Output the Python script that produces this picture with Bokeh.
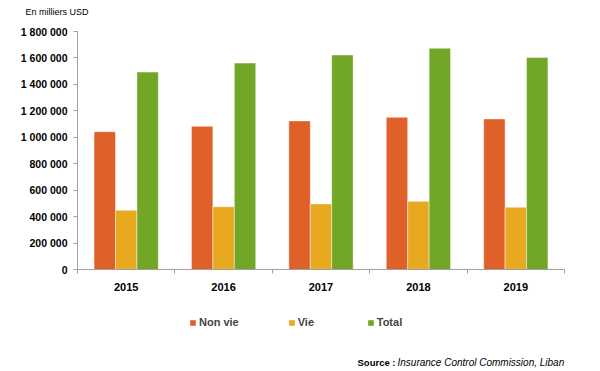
from bokeh.plotting import figure
from bokeh.layouts import column
from bokeh.models import (Range1d, FixedTicker, CustomJSTickFormatter, Legend, LegendItem,
                          Label, ColumnDataSource)
from bokeh.embed import file_html
from bokeh.resources import INLINE

years = ["2015", "2016", "2017", "2018", "2019"]
non_vie = [1042000, 1083000, 1124000, 1151000, 1139000]
vie = [448000, 475000, 496000, 516000, 471000]
total = [1493000, 1561000, 1622000, 1673000, 1604000]

series_names = ["Non vie", "Vie", "Total"]
series_values = [non_vie, vie, total]
colors = ["#E0602A", "#E8A820", "#72A626"]
offsets = [-0.22, 0.0, 0.22]
bar_w = 0.22

W = 592
H1 = 300
n = len(years)
# frame spans to the right edge; the axis itself stops at the last category
x_end = n * (592 - 77) / (564 - 77)
p = figure(width=W, height=H1, output_backend="svg", toolbar_location=None,
           x_range=Range1d(0, x_end), y_range=Range1d(0, 1800000),
           min_border_left=77, min_border_right=0, min_border_top=31, min_border_bottom=31)
p.outline_line_color = None
p.xgrid.grid_line_color = None
p.ygrid.grid_line_color = None

p.title.text = "En milliers USD\n "
p.title.align = "left"
p.title.offset = -52
p.title.standoff = 6
p.title.text_font = "Liberation Sans"
p.title.text_font_size = "9px"
p.title.text_line_height = 1.2
p.title.text_font_style = "normal"
p.title.text_color = "black"

centers = [i + 0.5 for i in range(n)]
for name, vals, col, off in zip(series_names, series_values, colors, offsets):
    src = ColumnDataSource(dict(x=[c + off for c in centers], top=vals))
    p.vbar(x="x", top="top", width=bar_w, source=src, fill_color=col,
           line_color="white", line_alpha=0.45, line_width=1)

axis_col = "#A0A0A0"
xa = p.xaxis[0]
xa.bounds = (0, n)
xa.ticker = FixedTicker(ticks=centers, minor_ticks=list(range(n + 1)))
xa.major_label_overrides = {c: y for c, y in zip(centers, years)}
xa.major_tick_out = 0
xa.major_tick_in = 0
xa.minor_tick_out = 4
xa.minor_tick_in = 0
xa.minor_tick_line_color = axis_col
xa.axis_line_color = axis_col
xa.major_label_standoff = 9
xa.major_label_text_font = "Liberation Sans"
xa.major_label_text_font_size = "11px"
xa.major_label_text_font_style = "bold"
xa.major_label_text_color = "black"

ya = p.yaxis[0]
ya.ticker = FixedTicker(ticks=list(range(0, 1800001, 200000)))
ya.formatter = CustomJSTickFormatter(code="return Math.round(tick).toString().replace(/\\B(?=(\\d{3})+(?!\\d))/g, ' ');")
ya.major_tick_out = 4
ya.major_tick_in = 0
ya.minor_tick_line_color = None
ya.major_tick_line_color = axis_col
ya.axis_line_color = axis_col
ya.major_label_standoff = 6
ya.major_label_text_font = "Liberation Sans"
ya.major_label_text_font_size = "10.5px"
ya.major_label_text_font_style = "bold"
ya.major_label_text_color = "black"

# Lower strip: legend and source (its frame is aligned with the chart's frame)
H2 = 71
p2 = figure(width=W, height=H2, output_backend="svg", toolbar_location=None,
            x_range=Range1d(0, 1), y_range=Range1d(0, 1),
            x_axis_location=None, y_axis_location=None,
            min_border_left=77, min_border_right=0, min_border_top=0, min_border_bottom=0)
p2.grid.visible = False
p2.outline_line_color = None
legend_renderers = []
for name, col in zip(series_names, colors):
    # zero-height legend proxies
    r = p2.vbar(x=[0.5], top=[0], bottom=[0], width=0.1, fill_color=col, line_color=None)
    legend_renderers.append(r)

legend = Legend(items=[LegendItem(label=nm, renderers=[r]) for nm, r in zip(series_names, legend_renderers)],
                orientation="horizontal", location=(112, 43), padding=0, margin=0,
                spacing=49, glyph_width=7, glyph_height=7, label_standoff=3, label_height=12,
                label_text_font="Liberation Sans", label_text_font_size="11px",
                label_text_font_style="bold",
                border_line_color=None, background_fill_alpha=0)
p2.add_layout(legend, "center")

p2.add_layout(Label(x=280, y=9, x_units="screen", y_units="screen", text="Source : ",
                    text_font="Liberation Sans", text_font_size="9.5px", text_font_style="bold",
                    text_baseline="middle", text_color="black"))
p2.add_layout(Label(x=320, y=9, x_units="screen", y_units="screen",
                    text="Insurance Control Commission, Liban",
                    text_font="Liberation Sans", text_font_size="10px", text_font_style="italic",
                    text_baseline="middle", text_color="black"))

lay = column(p, p2, spacing=0)
open("out.html", "w").write(file_html(lay, INLINE))
